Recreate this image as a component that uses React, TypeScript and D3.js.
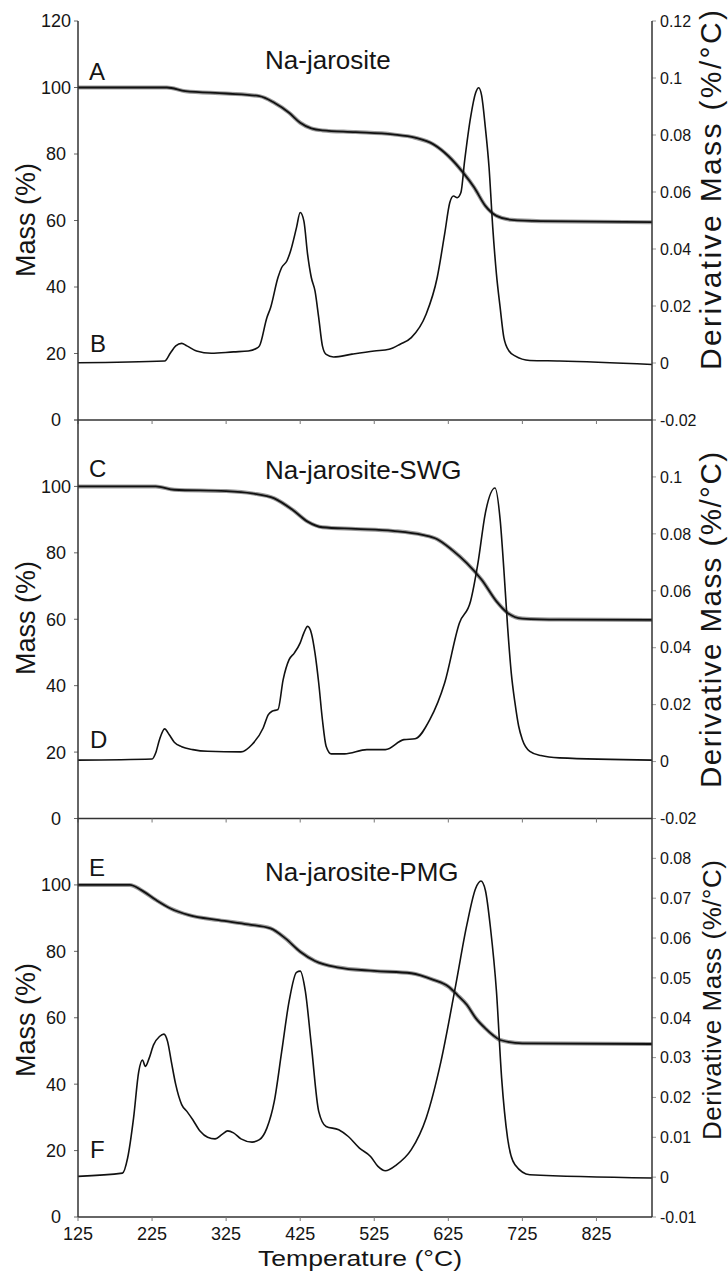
import React from 'react';
import * as d3 from 'd3';

// ---------- data ----------
const tempTicks = [125, 225, 325, 425, 525, 625, 725, 825];
const massTicks = [0, 20, 40, 60, 80, 100, 120];
const derivTicksWide = [-0.02, 0, 0.02, 0.04, 0.06, 0.08, 0.1, 0.12];
const derivTicksNarrow = [-0.01, 0, 0.01, 0.02, 0.03, 0.04, 0.05, 0.06, 0.07, 0.08, 0.09];

const panelTitles = ['Na-jarosite', 'Na-jarosite-SWG', 'Na-jarosite-PMG'];
const massLetters = ['A', 'C', 'E'];
const derivLetters = ['B', 'D', 'F'];

// A: Na-jarosite mass (%)
const tempA = [125, 245, 270, 325, 370, 390, 410, 425, 440, 455, 500, 550, 580, 605, 625, 645, 660, 675, 690, 710, 750, 900];
const massA = [100, 100, 98.9, 98.2, 97.4, 95.4, 92.4, 89.4, 87.7, 87.1, 86.6, 85.9, 84.9, 82.9, 79.4, 74.4, 69.9, 64.4, 61.4, 60.2, 59.8, 59.5];

// B: Na-jarosite derivative mass (%/°C)
const tempB = [125, 242, 250, 257, 265, 272, 285, 305, 335, 355, 365, 370, 380, 385, 395, 400, 407, 412, 420, 425, 430, 435, 440, 445, 450, 455, 460, 470, 495, 525, 545, 560, 575, 595, 610, 620, 627, 632, 637, 642, 647, 655, 662, 666, 670, 675, 680, 685, 690, 695, 700, 707, 715, 735, 775, 900];
const derivB = [0.0001, 0.0007, 0.0036, 0.006, 0.0069, 0.006, 0.0042, 0.0034, 0.0039, 0.0042, 0.005, 0.006, 0.0159, 0.0194, 0.03, 0.0335, 0.0358, 0.0393, 0.0475, 0.0528, 0.0498, 0.0381, 0.03, 0.0253, 0.0159, 0.006, 0.003, 0.0021, 0.0031, 0.0042, 0.0048, 0.0066, 0.0089, 0.0171, 0.03, 0.0452, 0.0563, 0.0586, 0.058, 0.0598, 0.0709, 0.0861, 0.0949, 0.0966, 0.0938, 0.0826, 0.0686, 0.0475, 0.0311, 0.0194, 0.0089, 0.0042, 0.0025, 0.0009, 0.0007, -0.0005];

// C: Na-jarosite-SWG mass (%)
const tempC = [125, 230, 255, 325, 360, 390, 415, 435, 455, 500, 550, 590, 610, 630, 650, 670, 690, 705, 725, 775, 900];
const massC = [100, 100, 99.0, 98.6, 97.9, 96.4, 92.9, 89.4, 87.7, 87.2, 86.6, 85.4, 84.1, 80.9, 76.9, 71.9, 65.4, 61.9, 60.2, 59.9, 59.8];

// D: Na-jarosite-SWG derivative mass
const tempD = [125, 225, 230, 235, 242, 248, 255, 265, 280, 300, 345, 360, 375, 382, 387, 395, 402, 410, 417, 425, 430, 435, 440, 445, 450, 455, 460, 467, 485, 515, 540, 565, 580, 600, 620, 640, 655, 665, 675, 688, 695, 700, 705, 710, 715, 720, 725, 735, 750, 775, 900];
const derivD = [0.0005, 0.0009, 0.0031, 0.0077, 0.0115, 0.0095, 0.0068, 0.0052, 0.0042, 0.0036, 0.0034, 0.006, 0.0118, 0.0165, 0.0177, 0.0183, 0.0288, 0.0358, 0.0381, 0.0417, 0.0452, 0.0475, 0.0452, 0.0381, 0.0276, 0.0147, 0.0054, 0.0027, 0.0027, 0.0042, 0.0042, 0.0077, 0.008, 0.0147, 0.0276, 0.0487, 0.0563, 0.0697, 0.0873, 0.0961, 0.0849, 0.0674, 0.0475, 0.0311, 0.0206, 0.0124, 0.0077, 0.0036, 0.0021, 0.0013, 0.0005];

// E: Na-jarosite-PMG mass (%)
const tempE = [125, 195, 210, 230, 250, 275, 315, 355, 385, 405, 425, 445, 475, 525, 575, 605, 625, 637, 650, 662, 675, 685, 695, 725, 900];
const massE = [100, 100, 98.5, 95.5, 92.9, 90.9, 89.4, 88.1, 86.9, 83.9, 79.9, 77.1, 75.2, 74.1, 73.4, 71.4, 69.4, 66.9, 63.9, 59.9, 56.8, 54.8, 53.3, 52.3, 52.1];

// F: Na-jarosite-PMG derivative mass
const tempF = [125, 185, 192, 200, 207, 212, 216, 221, 227, 235, 241, 246, 251, 257, 265, 272, 280, 290, 300, 310, 320, 327, 335, 345, 360, 370, 380, 390, 400, 410, 420, 425, 432, 440, 450, 460, 477, 490, 505, 520, 530, 540, 555, 575, 595, 615, 635, 650, 662, 669, 675, 682, 690, 697, 705, 715, 735, 900];
const derivF = [0.0002, 0.001, 0.0048, 0.0148, 0.0265, 0.0294, 0.0278, 0.0298, 0.0332, 0.0353, 0.0359, 0.034, 0.029, 0.0232, 0.0182, 0.0165, 0.0144, 0.0115, 0.01, 0.0096, 0.0108, 0.0116, 0.0111, 0.0096, 0.0088, 0.0094, 0.0123, 0.019, 0.0315, 0.0441, 0.0514, 0.0517, 0.0466, 0.0332, 0.0165, 0.0127, 0.0119, 0.0102, 0.0073, 0.0052, 0.0027, 0.0016, 0.0031, 0.0069, 0.0148, 0.029, 0.0482, 0.0633, 0.0725, 0.0743, 0.072, 0.0624, 0.0466, 0.0248, 0.0098, 0.0031, 0.0006, -0.0002];

// ---------- layout ----------
const W = 728;
const H = 1279;
const FONT = '"Liberation Sans", Arial, Helvetica, sans-serif';
const X0 = 78;
const X1 = 652;
const TEXT = '#151515';
const AXIS = '#333';

const panels = [
  {
    top: 21, bottom: 420, derivDomain: [-0.02, 0.12], derivTicks: derivTicksWide,
    showTopLabel: true, mass: [tempA, massA], deriv: [tempB, derivB],
    titleY: 69, massLetterY: 80, derivLetterY: 352,
    massTitleY: 220, derivTitleY: 190, derivTitleSize: 30, derivTitleLen: 360,
  },
  {
    top: 420, bottom: 818.5, derivDomain: [-0.02, 0.12], derivTicks: derivTicksWide,
    showTopLabel: false, mass: [tempC, massC], deriv: [tempD, derivD],
    titleY: 479, massLetterY: 477, derivLetterY: 748,
    massTitleY: 618, derivTitleY: 620, derivTitleSize: 29.5, derivTitleLen: 336,
  },
  {
    top: 818.5, bottom: 1217, derivDomain: [-0.01, 0.09], derivTicks: derivTicksNarrow,
    showTopLabel: false, mass: [tempE, massE], deriv: [tempF, derivF],
    titleY: 881, massLetterY: 876, derivLetterY: 1158,
    massTitleY: 1020, derivTitleY: 1000, derivTitleSize: 26, derivTitleLen: 280,
  },
];

const fmt = (v: number) => String(+v.toFixed(3));

export default function App() {
  const x = d3.scaleLinear().domain([125, 900]).range([X0, X1]);

  return (
    <svg
      width={W}
      height={H}
      viewBox={`0 0 ${W} ${H}`}
      style={{ position: 'absolute', left: 0, top: 0, background: '#fff' }}
      fontFamily={FONT}
    >
      <rect x={0} y={0} width={W} height={H} fill="#fff" />
      {panels.map((p, i) => {
        const yM = d3.scaleLinear().domain([0, 120]).range([p.bottom, p.top]);
        const yD = d3.scaleLinear().domain(p.derivDomain).range([p.bottom, p.top]);
        const massLine = d3
          .line<number>()
          .x((_, k) => x(p.mass[0][k]))
          .y((v) => yM(v))
          .curve(d3.curveMonotoneX);
        const derivLine = d3
          .line<number>()
          .x((_, k) => x(p.deriv[0][k]))
          .y((v) => yD(v))
          .curve(d3.curveMonotoneX);
        const mTicks = p.showTopLabel ? massTicks : massTicks.filter((t) => t < 120);
        const dLast = p.derivTicks[p.derivTicks.length - 1];
        const dTicks = p.showTopLabel ? p.derivTicks : p.derivTicks.filter((t) => t < dLast - 1e-9);
        return (
          <g key={i}>
            {/* bottom axis line of the panel */}
            <line x1={X0} x2={X1} y1={p.bottom} y2={p.bottom} stroke={AXIS} strokeWidth={1.5} />
            {tempTicks.map((t) => (
              <line key={t} x1={x(t)} x2={x(t)} y1={p.bottom} y2={p.bottom + 4} stroke="#777" strokeWidth={1} />
            ))}
            {/* left ticks */}
            {massTicks.map((t) => (
              <line key={t} x1={X0 - 4} x2={X0} y1={yM(t)} y2={yM(t)} stroke="#666" strokeWidth={1} />
            ))}
            {mTicks.map((t) => (
              <text key={t} x={56} y={yM(t)} dy="0.36em" textAnchor="middle" fontSize={18} fill={TEXT}>
                {t}
              </text>
            ))}
            {/* right ticks */}
            {p.derivTicks.map((t) => (
              <line key={t} x1={X1} x2={X1 + 4} y1={yD(t)} y2={yD(t)} stroke="#999" strokeWidth={1} />
            ))}
            {dTicks.map((t) => (
              <text key={t} x={660} y={yD(t)} dy="0.36em" textAnchor="start" fontSize={16} fill={TEXT}>
                {fmt(t)}
              </text>
            ))}
            {/* curves */}
            <path d={massLine(p.mass[1]) || ''} fill="none" stroke="#9a9a9a" strokeWidth={4} strokeLinejoin="round" />
            <path d={massLine(p.mass[1]) || ''} fill="none" stroke="#111" strokeWidth={1.8} strokeLinejoin="round" />
            <path d={derivLine(p.deriv[1]) || ''} fill="none" stroke="#111" strokeWidth={1.6} strokeLinejoin="round" />
            {/* labels */}
            <text x={265} y={p.titleY} fontSize={26} fill={TEXT}>
              {panelTitles[i]}
            </text>
            <text x={89} y={p.massLetterY} fontSize={24} fill={TEXT}>
              {massLetters[i]}
            </text>
            <text x={90} y={p.derivLetterY} fontSize={24} fill={TEXT}>
              {derivLetters[i]}
            </text>
            <text
              transform={`translate(35,${p.massTitleY}) rotate(-90)`}
              textAnchor="middle"
              fontSize={27}
              fill={TEXT}
            >
              Mass (%)
            </text>
            <text
              transform={`translate(721,${p.derivTitleY}) rotate(-90)`}
              textAnchor="middle"
              fontSize={p.derivTitleSize}
              textLength={p.derivTitleLen}
              fill={TEXT}
            >
              Derivative Mass (%/°C)
            </text>
          </g>
        );
      })}
      {/* vertical axes */}
      <line x1={X0} x2={X0} y1={21} y2={1217} stroke={AXIS} strokeWidth={1.5} />
      <line x1={X1} x2={X1} y1={21} y2={1217} stroke={AXIS} strokeWidth={1.5} />
      {/* x tick labels */}
      {tempTicks.map((t) => (
        <text key={t} x={x(t)} y={1240} textAnchor="middle" fontSize={18} fill={TEXT}>
          {t}
        </text>
      ))}
      <text
        x={360}
        y={1266}
        textAnchor="middle"
        fontSize={22}
        textLength={204}
        lengthAdjust="spacingAndGlyphs"
        fill={TEXT}
      >
        Temperature (°C)
      </text>
    </svg>
  );
}
